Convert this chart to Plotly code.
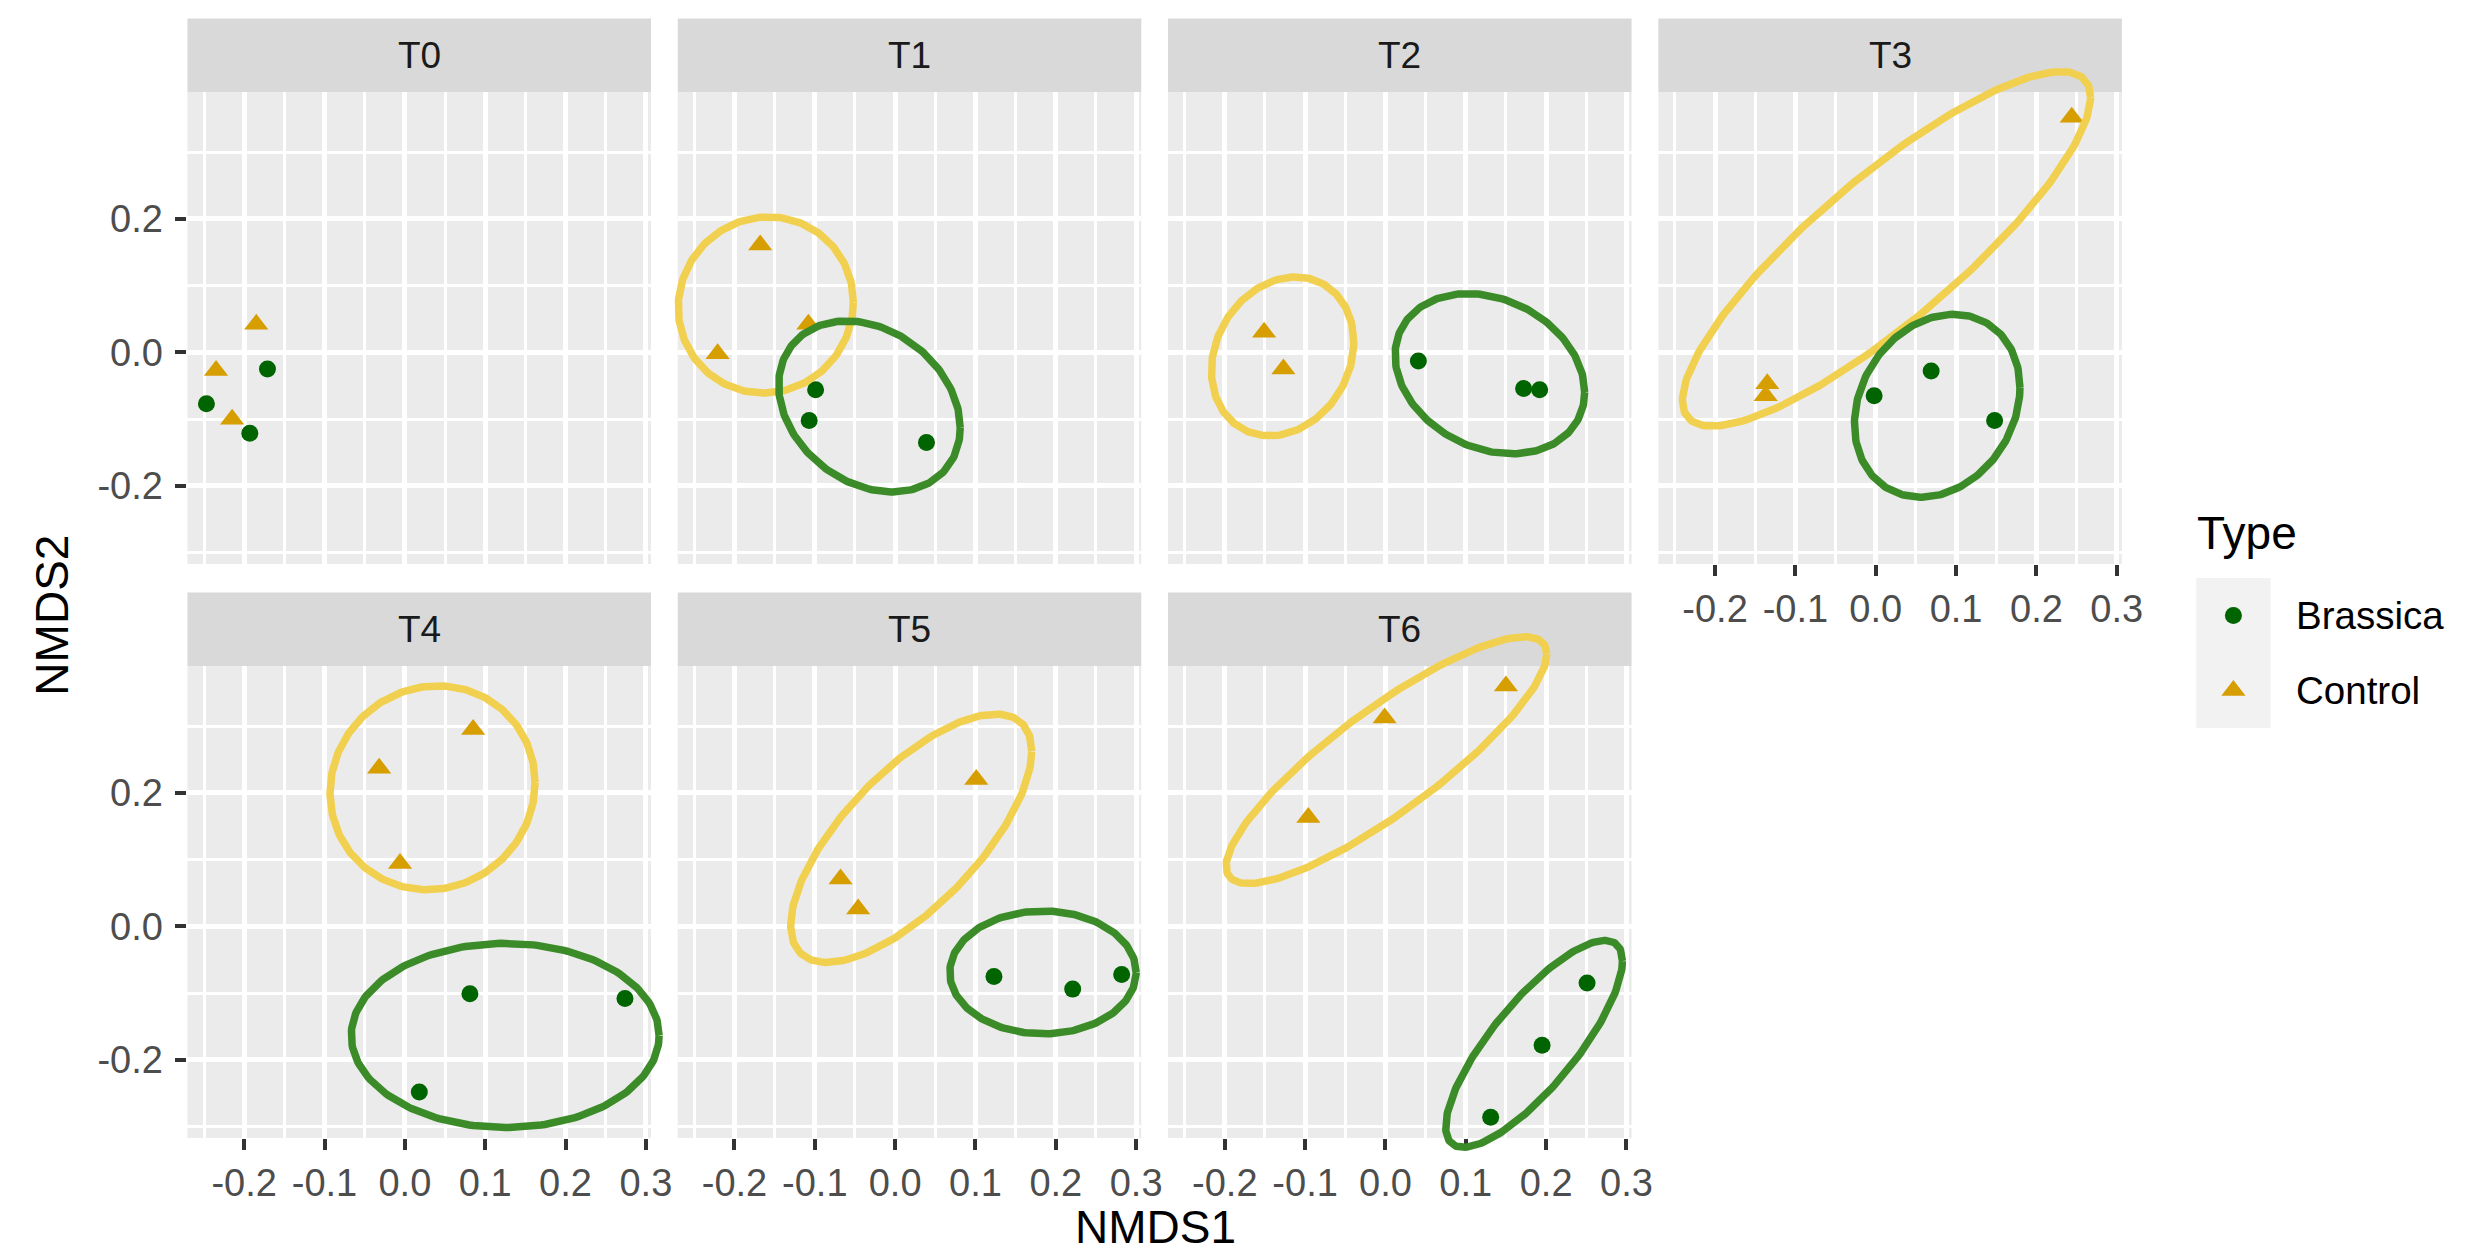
import numpy as np
import plotly.graph_objects as go

# ---------------- data ----------------
panels = ["T0", "T1", "T2", "T3", "T4", "T5", "T6"]
panel_row = [0, 0, 0, 0, 1, 1, 1]
panel_col = [0, 1, 2, 3, 0, 1, 2]

brassica_panel = ["T0", "T0", "T0", "T1", "T1", "T1", "T2", "T2", "T2",
                  "T3", "T3", "T3", "T4", "T4", "T4", "T5", "T5", "T5",
                  "T6", "T6", "T6"]
brassica_x = [-0.171, -0.247, -0.193, -0.099, -0.107, 0.039, 0.041, 0.172, 0.192,
              -0.002, 0.069, 0.148, 0.081, 0.274, 0.018, 0.123, 0.221, 0.282,
              0.251, 0.195, 0.131]
brassica_y = [-0.025, -0.077, -0.121, -0.056, -0.102, -0.135, -0.013, -0.054, -0.056,
              -0.065, -0.028, -0.102, -0.101, -0.108, -0.248, -0.075, -0.094, -0.072,
              -0.085, -0.178, -0.286]

control_panel = ["T0", "T0", "T0", "T1", "T1", "T1", "T2", "T2",
                 "T3", "T3", "T3", "T4", "T4", "T4", "T5", "T5", "T5",
                 "T6", "T6", "T6"]
control_x = [-0.185, -0.235, -0.215, -0.168, -0.221, -0.108, -0.151, -0.127,
             0.244, -0.135, -0.137, 0.085, -0.032, -0.006, 0.101, -0.068, -0.046,
             0.150, -0.001, -0.096]
control_y = [0.042, -0.027, -0.100, 0.161, -0.002, 0.042, 0.030, -0.025,
             0.352, -0.047, -0.065, 0.295, 0.237, 0.094, 0.220, 0.071, 0.026,
             0.360, 0.312, 0.163]

# ellipses: centre, half-extent in x and y, and tilt (x-offset of top point / half-extent x)
ellipse_panel = ["T1", "T1", "T2", "T2", "T3", "T3", "T4", "T4", "T5", "T5", "T6", "T6"]
ellipse_type = ["Control", "Brassica"] * 6
ellipse_cx = [-0.161, -0.032, -0.128, 0.130, 0.0134, 0.0765, 0.0345, 0.1249, 0.020, 0.184, 0.0013, 0.185]
ellipse_cy = [0.071, -0.081, -0.006, -0.032, 0.155, -0.080, 0.2076, -0.1634, 0.132, -0.069, 0.249, -0.176]
ellipse_hx = [0.109, 0.113, 0.0886, 0.118, 0.254, 0.103, 0.1276, 0.1916, 0.150, 0.116, 0.1996, 0.110]
ellipse_hy = [0.132, 0.128, 0.119, 0.120, 0.2655, 0.137, 0.1527, 0.138, 0.186, 0.092, 0.1848, 0.155]
ellipse_r = [0.03, -0.25, 0.18, -0.23, 0.855, 0.20, 0.05, 0.0, 0.70, 0.0, 0.86, 0.80]

x_tick_vals = [-0.2, -0.1, 0.0, 0.1, 0.2, 0.3]
x_tick_text = ["-0.2", "-0.1", "0.0", "0.1", "0.2", "0.3"]
x_minor_vals = [-0.25, -0.15, -0.05, 0.05, 0.15, 0.25]
y_tick_vals = [-0.2, 0.0, 0.2]
y_tick_text = ["-0.2", "0.0", "0.2"]
y_minor_vals = [-0.3, -0.1, 0.1, 0.3]
x_range = [-0.2706, 0.3064]
y_range = [-0.317, 0.390]

types = ["Brassica", "Control"]
ellipse_order = ["Control", "Brassica"]
point_colors = {"Brassica": "#006400", "Control": "#D69E00"}
point_symbols = {"Brassica": "circle", "Control": "triangle-up"}
point_sizes = {"Brassica": 17, "Control": 21}
ellipse_colors = {"Brassica": "#3B8C28", "Control": "#F2D04F"}

# ---------------- geometry ----------------
W, H = 2470, 1250
col_left = [181, 675.5, 1170, 1664.5]
panel_w = 467.5
row_top = [84, 658]
panel_h = 472
strip_h = 73.5
EXT = 90
FONT = "Liberation Sans, Arial, sans-serif"

fig = go.Figure()
layout = {}
shapes = []
annotations = []
npan = len(panels)


def ax_name(kind, n):
    return kind + ("axis" if n == 1 else f"axis{n}")


def ref(kind, n):
    return kind if n == 1 else f"{kind}{n}"


ux = panel_w / (x_range[1] - x_range[0])
uy = panel_h / (y_range[1] - y_range[0])
tt = np.linspace(0, 2 * np.pi, 241)

for i, name in enumerate(panels):
    r, c = panel_row[i], panel_col[i]
    L = col_left[c]
    R = L + panel_w
    T = row_top[r]
    B = T + panel_h
    n = i + 1
    m = i + 1 + npan
    bottom_axis = (r == 1) or (c == 3)
    left_axis = (c == 0)

    shapes.append(dict(type="rect", xref="paper", yref="paper",
                       x0=L / W, x1=R / W, y0=1 - B / H, y1=1 - T / H,
                       fillcolor="#EBEBEB", line_width=0, layer="below"))
    shapes.append(dict(type="rect", xref="paper", yref="paper",
                       x0=L / W, x1=R / W, y0=1 - T / H, y1=1 - (T - strip_h) / H,
                       fillcolor="#D9D9D9", line_width=0, layer="below"))
    annotations.append(dict(text=name, xref="paper", yref="paper",
                            x=(L + R) / 2 / W, y=1 - (T - strip_h / 2) / H,
                            xanchor="center", yanchor="middle", showarrow=False,
                            font=dict(family=FONT, size=37, color="#1A1A1A")))

    layout[ax_name("x", n)] = dict(
        domain=[L / W, R / W], range=x_range, anchor=ref("y", n),
        tickmode="array", tickvals=x_tick_vals, ticktext=x_tick_text,
        showticklabels=bottom_axis, ticks="outside" if bottom_axis else "",
        ticklen=11, tickwidth=3.5, tickcolor="#333333",
        tickfont=dict(family=FONT, size=38, color="#4D4D4D"),
        showgrid=True, gridcolor="white", gridwidth=5,
        zeroline=False, showline=False, fixedrange=True,
        minor=dict(tickvals=x_minor_vals, showgrid=True, gridcolor="white",
                   gridwidth=2.5))
    layout[ax_name("y", n)] = dict(
        domain=[1 - B / H, 1 - T / H], range=y_range, anchor=ref("x", n),
        tickmode="array", tickvals=y_tick_vals, ticktext=y_tick_text,
        showticklabels=left_axis, ticks="outside" if left_axis else "",
        ticklen=11, tickwidth=3.5, tickcolor="#333333", ticklabelstandoff=5,
        tickfont=dict(family=FONT, size=38, color="#4D4D4D"),
        showgrid=True, gridcolor="white", gridwidth=5,
        zeroline=False, showline=False, fixedrange=True,
        minor=dict(tickvals=y_minor_vals, showgrid=True, gridcolor="white",
                   gridwidth=2.5))

    # overlay axes so the ellipses may run past the panel edge
    L2, R2 = max(0, L - EXT), min(W, R + EXT)
    T2, B2 = max(0, T - EXT), min(H, B + EXT)
    xr2 = [x_range[0] - (L - L2) / ux, x_range[1] + (R2 - R) / ux]
    yr2 = [y_range[0] - (B2 - B) / uy, y_range[1] + (T - T2) / uy]
    layout[ax_name("x", m)] = dict(domain=[L2 / W, R2 / W], range=xr2,
                                   anchor=ref("y", m), visible=False,
                                   showgrid=False, zeroline=False, fixedrange=True)
    layout[ax_name("y", m)] = dict(domain=[1 - B2 / H, 1 - T2 / H], range=yr2,
                                   anchor=ref("x", m), visible=False,
                                   showgrid=False, zeroline=False, fixedrange=True)

    # points (on the panel axes)
    for tp, px, py, pp in [("Brassica", brassica_x, brassica_y, brassica_panel),
                           ("Control", control_x, control_y, control_panel)]:
        xs = [x for x, p in zip(px, pp) if p == name]
        ys = [y for y, p in zip(py, pp) if p == name]
        fig.add_trace(go.Scatter(
            x=xs, y=ys, mode="markers", xaxis=ref("x", n), yaxis=ref("y", n),
            marker=dict(symbol=point_symbols[tp], size=point_sizes[tp],
                        color=point_colors[tp], line_width=0),
            cliponaxis=False, showlegend=False, hoverinfo="skip"))

    # ellipses (on the overlay axes)
    for tp in ellipse_order:
        for k in range(len(ellipse_panel)):
            if ellipse_panel[k] == name and ellipse_type[k] == tp:
                phi = np.arccos(ellipse_r[k])
                ex = ellipse_cx[k] + ellipse_hx[k] * np.cos(tt)
                ey = ellipse_cy[k] + ellipse_hy[k] * np.cos(tt - phi)
                fig.add_trace(go.Scatter(
                    x=ex, y=ey, mode="lines", xaxis=ref("x", m), yaxis=ref("y", m),
                    line=dict(color=ellipse_colors[tp], width=7.5),
                    showlegend=False, hoverinfo="skip"))

# ---------------- legend (manual) ----------------
lg = 2 * npan + 1
key_L, key_R, key_T, key_B = 2207, 2282, 570, 720
shapes.append(dict(type="rect", xref="paper", yref="paper",
                   x0=key_L / W, x1=key_R / W, y0=1 - key_B / H, y1=1 - key_T / H,
                   fillcolor="#F2F2F2", line_width=0, layer="below"))
layout[ax_name("x", lg)] = dict(domain=[key_L / W, key_R / W], range=[0, 1],
                                anchor=ref("y", lg), visible=False, fixedrange=True)
layout[ax_name("y", lg)] = dict(domain=[1 - key_B / H, 1 - key_T / H], range=[0, 2],
                                anchor=ref("x", lg), visible=False, fixedrange=True)
for j, tp in enumerate(types):
    fig.add_trace(go.Scatter(
        x=[0.5], y=[1.5 - j], mode="markers", xaxis=ref("x", lg), yaxis=ref("y", lg),
        marker=dict(symbol=point_symbols[tp], size=point_sizes[tp],
                    color=point_colors[tp], line_width=0),
        showlegend=False, hoverinfo="skip"))
    annotations.append(dict(text=tp, xref="paper", yref="paper",
                            x=2306 / W, y=1 - (key_T + 37.5 + 75 * j) / H,
                            xanchor="left", yanchor="middle", showarrow=False,
                            font=dict(family=FONT, size=38.5, color="#000000")))
annotations.append(dict(text="Type", xref="paper", yref="paper",
                        x=2206 / W, y=1 - 525 / H, xanchor="left", yanchor="middle",
                        showarrow=False, font=dict(family=FONT, size=46, color="#000000")))

# axis titles
annotations.append(dict(text="NMDS1", xref="paper", yref="paper",
                        x=1157 / W, y=1 - 1219 / H, xanchor="center", yanchor="middle",
                        showarrow=False, font=dict(family=FONT, size=46, color="#000000")))
annotations.append(dict(text="NMDS2", xref="paper", yref="paper",
                        x=44 / W, y=1 - 607 / H, xanchor="center", yanchor="middle",
                        textangle=-90, showarrow=False,
                        font=dict(family=FONT, size=46, color="#000000")))

fig.update_layout(width=W, height=H, margin=dict(l=0, r=0, t=0, b=0),
                  paper_bgcolor="white", plot_bgcolor="rgba(0,0,0,0)",
                  shapes=shapes, annotations=annotations, showlegend=False,
                  **layout)

fig.write_html("out.html")
